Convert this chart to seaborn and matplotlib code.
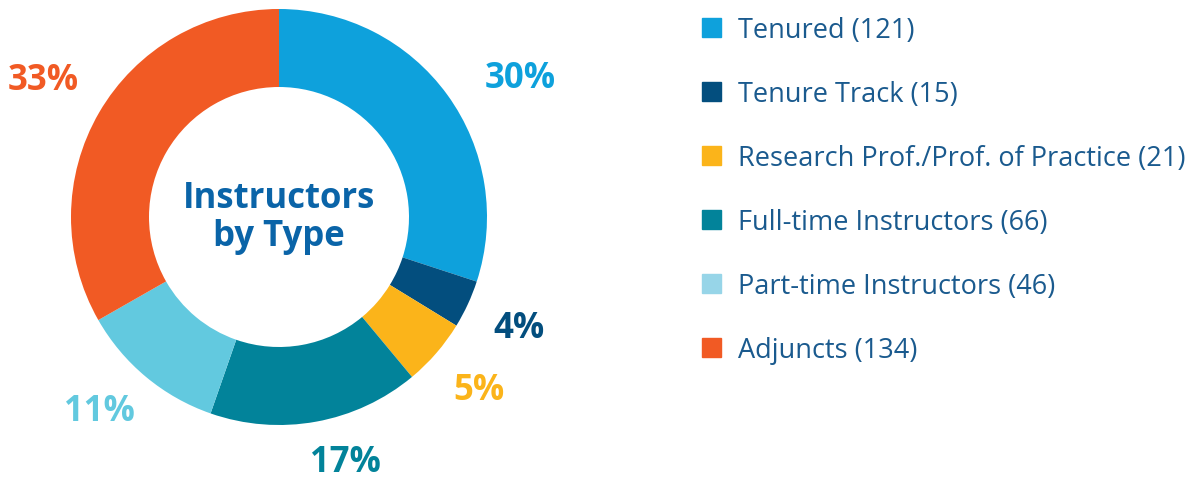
import matplotlib
matplotlib.use("Agg")
import matplotlib.pyplot as plt
import matplotlib.patches as mpatches
import numpy as np
import seaborn as sns

# data
categories = ["Tenured", "Tenure Track", "Research Prof./Prof. of Practice",
              "Full-time Instructors", "Part-time Instructors", "Adjuncts"]
counts = [121, 15, 21, 66, 46, 134]
pct_labels = ["30%", "4%", "5%", "17%", "11%", "33%"]

colors = ["#0EA1DC", "#034E7E", "#FBB41A", "#02839A", "#62C9DF", "#F15A24"]
legend_colors = ["#0EA1DC", "#034E7E", "#FBB41A", "#02839A", "#97D5E8", "#F15A24"]

# label placement tweaks (distance from center, angle shift in degrees)
label_dist = [1.34, 1.27, 1.27, 1.22, 1.27, 1.31]
label_shift = [-6, 0, 0, 5, -3, 0]

sns.set_theme(style="white")
plt.rcParams['font.family'] = ['Open Sans', 'DejaVu Sans']

W, H = 1194, 481
fig = plt.figure(figsize=(W / 100, H / 100), dpi=100)
fig.patch.set_facecolor("white")

# donut axes: center (279, 218) px, outer radius 208 px
cx, cy, r = 279, 218, 208
ax = fig.add_axes([(cx - r) / W, (H - cy - r) / H, 2 * r / W, 2 * r / H])

wedges, texts = ax.pie(counts, colors=colors, startangle=90, counterclock=False,
                       radius=1, labels=pct_labels, labeldistance=1.28,
                       wedgeprops=dict(width=0.375, linewidth=0),
                       textprops=dict(fontsize=25, fontweight="bold"))
ax.set_xlim(-1, 1)
ax.set_ylim(-1, 1)
ax.set_aspect("equal")
ax.axis("off")
for t, c, w, d, s in zip(texts, colors, wedges, label_dist, label_shift):
    mid = np.deg2rad((w.theta1 + w.theta2) / 2 + s)
    t.set_position((d * np.cos(mid), d * np.sin(mid)))
    t.set_color(c)
    t.set_horizontalalignment("center")
    t.set_verticalalignment("center")

ax.text(0, 0.0, "Instructors\nby Type", ha="center", va="center",
        fontsize=25, fontweight="bold", color="#0A64A8", linespacing=1.1)

# legend
handles = [mpatches.Patch(color=c, label=f"{n} ({v})")
           for c, n, v in zip(legend_colors, categories, counts)]
leg = fig.legend(handles=handles, loc="upper left",
                 bbox_to_anchor=(691 / W, 1 - 6 / H), frameon=False,
                 fontsize=19.5, handlelength=0.7, handleheight=0.7,
                 handletextpad=0.65, labelspacing=1.33, borderaxespad=0)
for t in leg.get_texts():
    t.set_color("#1A5A8E")

fig.savefig("out.png", dpi=100, facecolor="white")
